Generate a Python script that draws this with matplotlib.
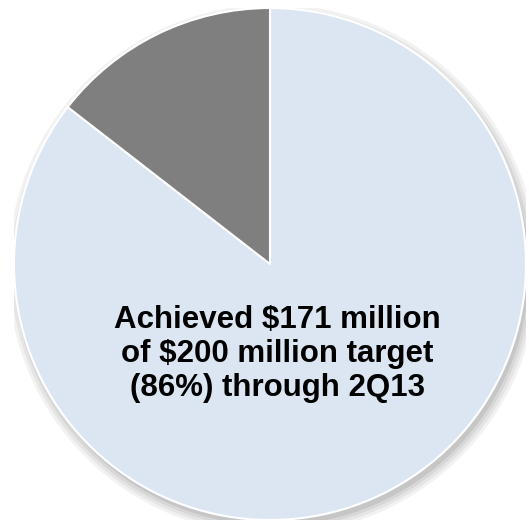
import matplotlib.pyplot as plt
from matplotlib.patches import Circle

# progress toward the cost savings target ($ millions)
labels = ['Achieved', 'Remaining']
values = [171, 200 - 171]
colors = ['#DCE6F2', '#7F7F7F']

plt.rcParams['font.family'] = ['Liberation Sans', 'DejaVu Sans']

fig = plt.figure(figsize=(5.29, 5.25), dpi=100)
ax = fig.add_axes([14 / 529, 5 / 525, 512 / 529, 512 / 525])

# soft drop shadow under the pie
for i, a in enumerate([0.05, 0.05, 0.06, 0.08]):
    ax.add_patch(Circle((0.012, -0.022), 1.0 + 0.012 * (3 - i), color='black',
                        alpha=a, lw=0, zorder=0))

ax.pie(values, colors=colors, startangle=90, counterclock=False,
       wedgeprops=dict(edgecolor='white', linewidth=1.5),
       normalize=True)

ax.text(0.03, -0.352, 'Achieved \\$171 million\nof \\$200 million target\n(86%) through 2Q13',
        ha='center', va='center', fontsize=22.5, fontweight='bold',
        linespacing=1.16, color='black')

ax.set_xlim(-1, 1)
ax.set_ylim(-1, 1)
ax.set_aspect('equal')
ax.axis('off')

fig.savefig('out.png', dpi=100)
